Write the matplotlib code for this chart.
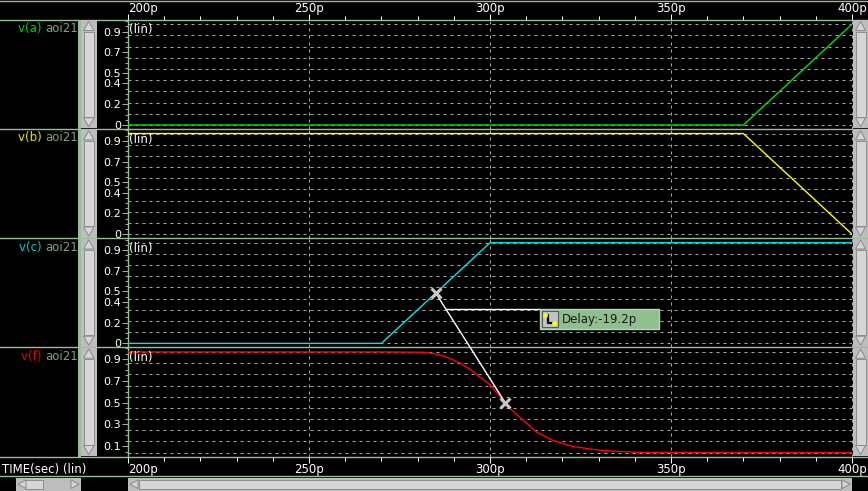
import numpy as np
import matplotlib
matplotlib.use('Agg')
import matplotlib.pyplot as plt
from matplotlib.patches import Rectangle, Polygon
from matplotlib.ticker import FixedLocator, MultipleLocator

# waveforms, time in ps, voltage in V
t_a = [200, 370, 400]
v_a = [0.0, 0.0, 0.97]
t_b = [200, 370, 400]
v_b = [0.97, 0.97, 0.0]
t_c = [200, 270, 300, 400]
v_c = [0.0, 0.0, 0.97, 0.97]
t_f = [200, 270, 282, 286, 289, 292, 294.5, 297, 300, 302.8, 305.5,
       309.2, 312.9, 317.5, 323, 329.5, 335, 341.4, 400]
v_f = [0.965, 0.965, 0.962, 0.94, 0.905, 0.858, 0.805, 0.74, 0.665, 0.555,
       0.447, 0.338, 0.229, 0.152, 0.096, 0.066, 0.052, 0.043, 0.04]

names = ['v(a)', 'v(b)', 'v(c)', 'v(f)']
cell = 'aoi21'
line_colors = ['#00e000', '#ffff00', '#00e5e5', '#ff0000']
name_colors = ['#00cc00', '#e6e600', '#00c8c8', '#e00000']
ytick_vals = [[0, 0.2, 0.4, 0.5, 0.7, 0.9],
              [0, 0.2, 0.4, 0.5, 0.7, 0.9],
              [0, 0.2, 0.4, 0.5, 0.7, 0.9],
              [0.1, 0.3, 0.5, 0.7, 0.9]]
time_ticks = [200, 250, 300, 350, 400]
mark_t = [285.0, 304.2]
delay_text = 'Delay:-19.2p'

W, H = 868, 491
X0, X1 = 128, 852
rows = [19.5, 128.8, 238, 347.2, 456.5]
GREEN = '#96be96'
FS = 8.5

fig = plt.figure(figsize=(W / 100, H / 100), dpi=100, facecolor='black')


def px_axes(x0, y0, x1, y1, z=1):
    return fig.add_axes([x0 / W, 1 - y1 / H, (x1 - x0) / W, (y1 - y0) / H], zorder=z)


series = [(t_a, v_a), (t_b, v_b), (t_c, v_c), (t_f, v_f)]
panels = []
for i, (t, v) in enumerate(series):
    ax = px_axes(X0, rows[i], X1, rows[i + 1])
    ax.set_facecolor('black')
    vmin, vmax = min(v), max(v)
    rng = vmax - vmin
    ax.set_xlim(200, 400)
    ax.set_ylim(vmin - 0.038 * rng, vmax + 0.047 * rng)
    # grid
    ax.vlines(time_ticks[1:], *ax.get_ylim(), colors='#a8a8a8', lw=0.72,
              linestyles=(0, (3, 4)), zorder=1, clip_on=False)
    ax.hlines(np.linspace(vmin, vmax, 10), 200, 400, colors='#a8a8a8', lw=0.72,
              linestyles=(0, (3, 4)), zorder=1)
    ax.plot(t, v, color=line_colors[i], lw=1.0, zorder=3)
    for s in ['top', 'right', 'bottom']:
        ax.spines[s].set_visible(False)
    ax.spines['left'].set_color(GREEN)
    ax.spines['left'].set_linewidth(1.0)
    ax.set_xticks([])
    ax.yaxis.set_major_locator(FixedLocator(ytick_vals[i]))
    ax.yaxis.set_minor_locator(MultipleLocator(0.05))
    ax.tick_params(axis='y', which='major', colors=GREEN, length=4, width=0.7,
                   labelcolor='white', labelsize=8, pad=1)
    ax.tick_params(axis='y', which='minor', colors=GREEN, length=2.5, width=0.7)
    ax.set_yticklabels(['0' if y == 0 else f'{y:g}' for y in ytick_vals[i]])
    ax.annotate('(lin)', xy=(0, 1), xycoords='axes fraction', xytext=(1, -10.5),
                textcoords='offset pixels', va='center', ha='left',
                color='white', fontsize=FS)
    panels.append(ax)

# time rulers
top = px_axes(X0, 0, X1, rows[0])
bot = px_axes(X0, rows[4], X1, 476)
for rax, side in [(top, 'bottom'), (bot, 'top')]:
    rax.set_facecolor('black')
    rax.set_xlim(200, 400)
    rax.set_ylim(0, 1)
    for s in rax.spines.values():
        s.set_visible(False)
    rax.set_yticks([])
    rax.set_xticks(time_ticks)
    rax.xaxis.set_minor_locator(MultipleLocator(10))
    rax.xaxis.set_ticks_position(side)
    rax.tick_params(axis='x', which='major', direction='in', length=4.3,
                    width=0.72, colors='white', labelbottom=False, labeltop=False)
    rax.tick_params(axis='x', which='minor', direction='in', length=2.9,
                    width=0.72, colors='white')
    ty = 0.55 if side == 'bottom' else 0.34
    for tt in time_ticks:
        rax.text(tt, ty, f'{tt}p', ha='left' if tt == time_ticks[0] else 'center',
                 va='center', color='white', fontsize=FS, clip_on=False)

# overlay in pixel coordinates
ov = fig.add_axes([0, 0, 1, 1], zorder=5)
ov.set_xlim(0, W)
ov.set_ylim(H, 0)
ov.axis('off')
ov.patch.set_alpha(0)

for y in [0.5] + rows + [476]:
    ov.plot([0, W], [y, y], color=GREEN, lw=1.0, zorder=2)
ov.add_patch(Rectangle((78.3, rows[0]), 2.7, rows[4] - rows[0], fc=GREEN, ec='none', zorder=2))


def vscroll(x, y0, y1, w=15.5):
    ov.add_patch(Rectangle((x, y0 + 0.5), w, y1 - y0 - 1, fc='#bdbdbd', ec='none', zorder=3))
    ov.add_patch(Rectangle((x + 2.5, y0 + 12), w - 5, y1 - y0 - 24, fc='#d6d6d6',
                           ec='#8e8e8e', lw=0.7, zorder=3))
    ov.add_patch(Polygon([(x + w / 2, y0 + 2), (x + 2.5, y0 + 11), (x + w - 2.5, y0 + 11)],
                         fc='#d6d6d6', ec='#8a8a8a', lw=0.7, zorder=3))
    ov.add_patch(Polygon([(x + w / 2, y1 - 2), (x + 2.5, y1 - 11), (x + w - 2.5, y1 - 11)],
                         fc='#d6d6d6', ec='#8a8a8a', lw=0.7, zorder=3))


def hscroll(x0, x1, y=477.5, h=13.5, thumb=None):
    ov.add_patch(Rectangle((x0, y), x1 - x0, h, fc='#bdbdbd', ec='none', zorder=3))
    tx0, tx1 = thumb if thumb else (x0 + 11, x1 - 11)
    ov.add_patch(Rectangle((tx0, y + 2), tx1 - tx0, h - 4, fc='#d6d6d6',
                           ec='#8e8e8e', lw=0.7, zorder=3))
    ov.add_patch(Polygon([(x0 + 2, y + h / 2), (x0 + 10, y + 2.5), (x0 + 10, y + h - 2.5)],
                         fc='#d6d6d6', ec='#8a8a8a', lw=0.7, zorder=3))
    ov.add_patch(Polygon([(x1 - 2, y + h / 2), (x1 - 10, y + 2.5), (x1 - 10, y + h - 2.5)],
                         fc='#d6d6d6', ec='#8a8a8a', lw=0.7, zorder=3))


for i in range(4):
    vscroll(81, rows[i], rows[i + 1])
    vscroll(853, rows[i], rows[i + 1], w=15)
    t = ov.text(78, rows[i] + 9, cell, ha='right', va='center', color='#7fa07f', fontsize=FS)
    ov.annotate(names[i] + ' ', xy=(0, 0.5), xycoords=t, ha='right', va='center',
                color=name_colors[i], fontsize=FS)

hscroll(16, 81, thumb=(25, 43))
hscroll(128, 852)
ov.text(2.5, 469, 'TIME(sec) (lin)', ha='left', va='center', color='white', fontsize=FS)


# delay measurement between v(c) and v(f)
def to_ov(ax, x, y):
    return ov.transData.inverted().transform(ax.transData.transform((x, y)))


pc = to_ov(panels[2], mark_t[0], np.interp(mark_t[0], t_c, v_c))
pf = to_ov(panels[3], mark_t[1], np.interp(mark_t[1], t_f, v_f))
ov.plot([pc[0], pf[0]], [pc[1], pf[1]], color='white', lw=1.0, zorder=6)
ov.plot([pc[0], pf[0]], [pc[1], pf[1]], ls='none', marker='x', ms=7, mew=2.2,
        color='#c8c8c8', zorder=7)
bx, by = pc[0] + 104, pc[1] + 16.3
hx = pc[0] + (by - pc[1]) * (pf[0] - pc[0]) / (pf[1] - pc[1])
ov.plot([hx, bx], [by, by], color='white', lw=1.0, zorder=6)
ov.add_patch(Rectangle((bx, by), 119, 19.5, fc='#8fbf8f', ec='#b4d8b4', lw=1.0, zorder=6))
ov.add_patch(Rectangle((bx + 2, by + 2), 16, 15.5, fc='#c4c4c4', ec='#5a5a5a', lw=0.8, zorder=7))
ov.plot([bx + 5, bx + 8, bx + 8, bx + 14], [by + 5.5, by + 5.5, by + 14, by + 14],
        color='black', lw=1.6, zorder=8)
ov.plot([bx + 5, bx + 14], [by + 5.5, by + 14], ls='none', marker='o', ms=2.5,
        color='#ffff00', zorder=9)
ov.text(bx + 22, by + 10, delay_text, ha='left', va='center', color='#1a1a1a',
        fontsize=FS, zorder=8)

fig.savefig('out.png', dpi=100, facecolor='black')
